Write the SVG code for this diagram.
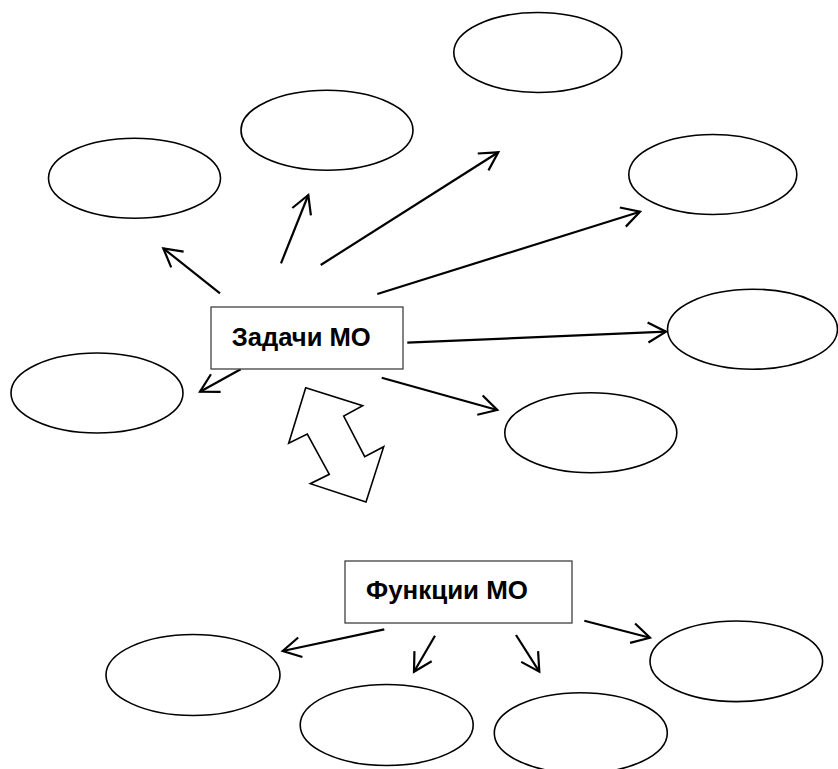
<svg xmlns="http://www.w3.org/2000/svg" width="838" height="769" viewBox="0 0 838 769">
<style>
.ell{fill:#fff;stroke:#000;stroke-width:1.6}
.box{fill:#fff;stroke:#404040;stroke-width:1.3}
.lbl{font-family:"Liberation Sans",Arial,sans-serif;font-weight:bold;font-size:25px;fill:#000}
.arr{stroke:#000;stroke-width:2.2;fill:none;marker-end:url(#ah)}
</style>
<defs>
<marker id="ah" markerUnits="userSpaceOnUse" viewBox="-25 -15 30 30" markerWidth="30" markerHeight="30" refX="0" refY="0" orient="auto">
<path d="M-18,-10 L0,0 L-18,10" fill="none" stroke="#000" stroke-width="2.2"/>
</marker>
</defs>
<rect width="838" height="769" fill="#fff"/>
<g id="connectors">
<line class="arr" x1="220" y1="293.3" x2="163.3" y2="248.3"/>
<line class="arr" x1="281" y1="263.3" x2="308.3" y2="195"/>
<line class="arr" x1="320.7" y1="265" x2="498.3" y2="152.3"/>
<line class="arr" x1="377.3" y1="294" x2="640" y2="211.7"/>
<line class="arr" x1="407.3" y1="342.7" x2="666" y2="331.7"/>
<line class="arr" x1="381.7" y1="377.7" x2="497.3" y2="410"/>
<line class="arr" x1="240.7" y1="369.3" x2="200" y2="391.7"/>
<line class="arr" x1="384.3" y1="629.3" x2="282.7" y2="651"/>
<line class="arr" x1="435" y1="635.7" x2="414" y2="671.7"/>
<line class="arr" x1="516" y1="635" x2="539.3" y2="671.7"/>
<line class="arr" x1="584.3" y1="620.7" x2="650" y2="637.7"/>
</g>
<g id="link-arrow">
<polygon points="305.7,387.7 362.7,405.7 343.7,416 364.7,456.7 383.7,446.7 366,502 310.3,483.7 329.3,474.3 307.3,434 288.7,443.3" fill="#fff" stroke="#000" stroke-width="1.6" stroke-linejoin="miter"/>
</g>
<g id="e1"><ellipse class="ell" cx="134.5" cy="178.3" rx="86" ry="40"/></g>
<g id="e2"><ellipse class="ell" cx="327" cy="130.2" rx="86" ry="40"/></g>
<g id="e3"><ellipse class="ell" cx="537.8" cy="52.5" rx="84" ry="40"/></g>
<g id="e4"><ellipse class="ell" cx="712.8" cy="174.5" rx="84" ry="40"/></g>
<g id="e5"><ellipse class="ell" cx="752.5" cy="329.2" rx="85" ry="40"/></g>
<g id="e6"><ellipse class="ell" cx="590.8" cy="432.8" rx="86" ry="40"/></g>
<g id="e7"><ellipse class="ell" cx="97" cy="393" rx="86" ry="40"/></g>
<g id="e8"><ellipse class="ell" cx="193" cy="675" rx="87" ry="40.5"/></g>
<g id="e9"><ellipse class="ell" cx="386.7" cy="725" rx="86.5" ry="40.5"/></g>
<g id="e10"><ellipse class="ell" cx="580.8" cy="733" rx="86.5" ry="40.3"/></g>
<g id="e11"><ellipse class="ell" cx="736.3" cy="661.3" rx="86.3" ry="40.3"/></g>
<g id="tasks">
<rect class="box" x="211" y="307" width="192" height="62"/>
<text class="lbl" x="231.7" y="345.7" textLength="139" lengthAdjust="spacingAndGlyphs">Задачи МО</text>
</g>
<g id="functions">
<rect class="box" x="345" y="561" width="227" height="62"/>
<text class="lbl" x="366" y="599" textLength="162" lengthAdjust="spacingAndGlyphs">Функции МО</text>
</g>
</svg>
